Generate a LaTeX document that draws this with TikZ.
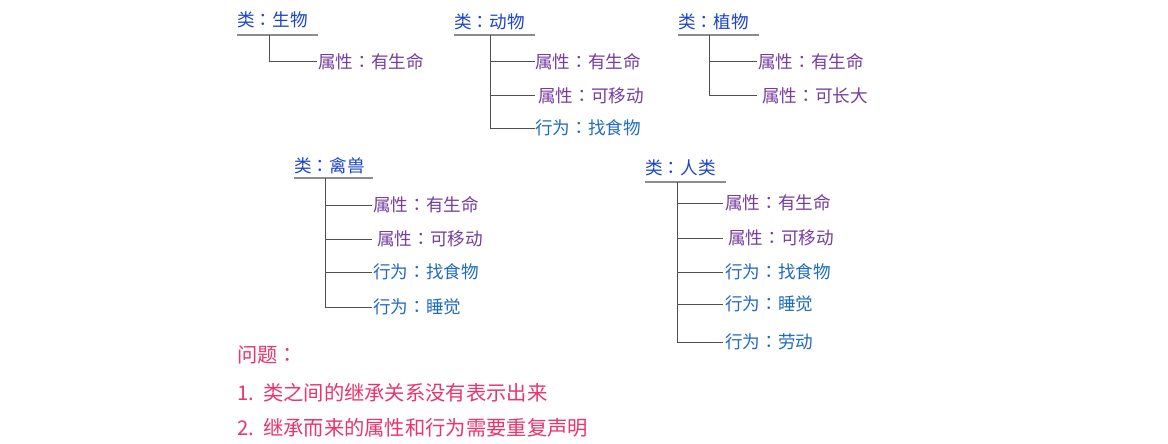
\documentclass[tikz,border=0pt]{standalone}
\usepackage{fontspec}
\newfontfamily\cjk{Noto Sans CJK SC}
\newfontfamily\cjktc{Noto Sans CJK TC}
\newcommand{\cc}{{\cjktc ：}}
\definecolor{titleblue}{RGB}{28,68,200}
\definecolor{attrpurple}{RGB}{118,62,160}
\definecolor{actblue}{RGB}{32,108,190}
\definecolor{probred}{RGB}{236,52,108}
\definecolor{ulgray}{RGB}{140,140,140}
\definecolor{treegray}{RGB}{80,80,80}
\tikzset{
  txt/.style={anchor=west, inner sep=0pt, font=\cjk\fontsize{17.6}{20}\selectfont},
  ttl/.style={txt, text=titleblue},
  attr/.style={txt, text=attrpurple},
  act/.style={txt, text=actblue},
  prob/.style={anchor=west, inner sep=0pt, font=\cjk\fontsize{20.3}{24}\selectfont, text=probred},
  uline/.style={draw=ulgray, line width=1.5pt},
  tree/.style={draw=treegray, line width=1pt},
}
\begin{document}
\begin{tikzpicture}[x=1pt,y=-1pt]
\useasboundingbox[fill=white] (0,0) rectangle (1168,444);

% ---- 类：生物
\node[ttl] (t1) at (237,20) {类\cc 生物};
\coordinate (u1s) at (237,35); \coordinate (u1e) at (318,35);
\draw[uline] (u1s) -- (u1e);
\coordinate (v1) at (269,35);
\node[attr] (a11) at (318,62) {属性\cc 有生命};
\draw[tree] (v1) |- ([xshift=-1pt]a11.west);

% ---- 类：动物
\node[ttl] (t2) at (454,22) {类\cc 动物};
\coordinate (u2s) at (454,35); \coordinate (u2e) at (535,35);
\draw[uline] (u2s) -- (u2e);
\coordinate (v2) at (490,35);
\node[attr] (a21) at (535,62) {属性\cc 有生命};
\node[attr] (a22) at (538,96) {属性\cc 可移动};
\node[act]  (a23) at (535,128) {行为\cc 找食物};
\draw[tree] (v2) |- (a21.west);
\draw[tree] (v2) |- ([xshift=-3pt]a22.west);
\draw[tree] (v2) |- (a23.west);

% ---- 类：植物
\node[ttl] (t3) at (678,22) {类\cc 植物};
\coordinate (u3s) at (678,35); \coordinate (u3e) at (759,35);
\draw[uline] (u3s) -- (u3e);
\coordinate (v3) at (709,35);
\node[attr] (a31) at (758,62) {属性\cc 有生命};
\node[attr] (a32) at (762,96) {属性\cc 可长大};
\draw[tree] (v3) |- ([xshift=-1pt]a31.west);
\draw[tree] (v3) |- ([xshift=-5pt]a32.west);

% ---- 类：禽兽
\node[ttl] (t4) at (294,166) {类\cc 禽兽};
\coordinate (u4s) at (294,178); \coordinate (u4e) at (373,178);
\draw[uline] (u4s) -- (u4e);
\coordinate (v4) at (325,178);
\node[attr] (a41) at (373,205) {属性\cc 有生命};
\node[attr] (a42) at (377,239) {属性\cc 可移动};
\node[act]  (a43) at (373,272) {行为\cc 找食物};
\node[act]  (a44) at (373,307) {行为\cc 睡觉};
\draw[tree] (v4) |- ([xshift=-1pt]a41.west);
\draw[tree] (v4) |- ([xshift=-5pt]a42.west);
\draw[tree] (v4) |- ([xshift=-1pt]a43.west);
\draw[tree] (v4) |- ([xshift=-1pt]a44.west);

% ---- 类：人类
\node[ttl] (t5) at (645,168) {类\cc 人类};
\coordinate (u5s) at (645,182); \coordinate (u5e) at (726,182);
\draw[uline] (u5s) -- (u5e);
\coordinate (v5) at (677,182);
\node[attr] (a51) at (725,203) {属性\cc 有生命};
\node[attr] (a52) at (728,238) {属性\cc 可移动};
\node[act]  (a53) at (725,272) {行为\cc 找食物};
\node[act]  (a54) at (725,304) {行为\cc 睡觉};
\node[act]  (a55) at (725,342) {行为\cc 劳动};
\draw[tree] (v5) |- ([xshift=-2pt]a51.west);
\draw[tree] (v5) |- ([xshift=-5pt]a52.west);
\draw[tree] (v5) |- ([xshift=-2pt]a53.west);
\draw[tree] (v5) |- ([xshift=-2pt]a54.west);
\draw[tree] (v5) |- ([xshift=-2pt]a55.west);

% ---- 问题
\node[prob] (q)  at (237,355) {问题\cc};
\node[prob] (q1) at (237,393) {\makebox[26pt][l]{1.}类之间的继承关系没有表示出来};
\node[prob] (q2) at (237,428) {\makebox[26pt][l]{2.}继承而来的属性和行为需要重复声明};
\end{tikzpicture}
\end{document}
